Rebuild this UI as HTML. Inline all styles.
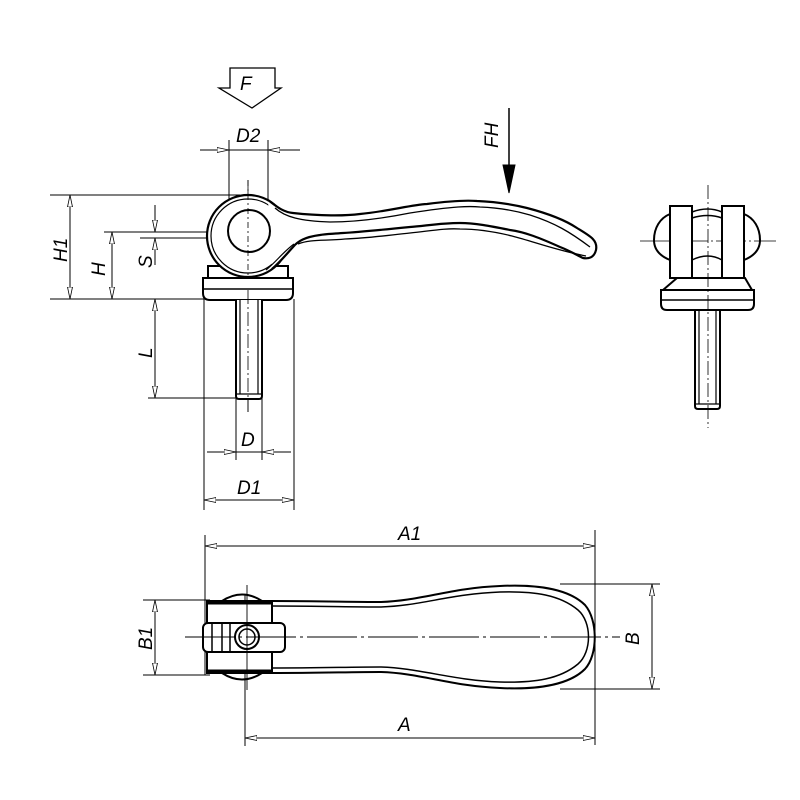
<!DOCTYPE html>
<html><head><meta charset="utf-8"><style>
html,body{margin:0;padding:0;background:#fff}
svg{display:block}
text{font-family:"Liberation Sans",sans-serif;font-style:italic;font-size:19px;fill:#000}
</style></head><body>
<svg width="800" height="800" viewBox="0 0 800 800" xmlns="http://www.w3.org/2000/svg">
<defs>
<marker id="a" viewBox="0 0 12 6" refX="12" refY="3" markerWidth="12" markerHeight="6" markerUnits="userSpaceOnUse" orient="auto-start-reverse">
<path d="M0,0.5 L12,3 L0,5.5 Z" fill="#fff" stroke="#000" stroke-width="0.8"/></marker>
</defs>
<g fill="none" stroke="#000">
<!-- F arrow -->
<path d="M230,68 H275 V88 H281 L252,108 L219,88 H230 Z" stroke-width="1.3"/>
<!-- FH arrow -->
<line x1="509" y1="108" x2="509" y2="170" stroke-width="1.5"/>
<path d="M503,165 L515,165 L509,193 Z" fill="#000"/>
<g stroke-width="1">
<line x1="229" y1="140" x2="229" y2="215"/><line x1="268" y1="140" x2="268" y2="215"/>
<line x1="200" y1="150" x2="229" y2="150" marker-end="url(#a)"/>
<line x1="300" y1="150" x2="268" y2="150" marker-end="url(#a)"/>
<line x1="229" y1="150" x2="268" y2="150"/>
<line x1="50" y1="195" x2="240" y2="195"/>
<line x1="50" y1="299" x2="205" y2="299"/>
<line x1="70" y1="195" x2="70" y2="299" marker-start="url(#a)" marker-end="url(#a)"/>
<line x1="104" y1="232" x2="260" y2="232"/>
<line x1="112" y1="232" x2="112" y2="299" marker-start="url(#a)" marker-end="url(#a)"/>
<line x1="140" y1="238" x2="297" y2="238"/>
<line x1="155" y1="205" x2="155" y2="232" marker-end="url(#a)"/>
<line x1="155" y1="265" x2="155" y2="238" marker-end="url(#a)"/>
<line x1="148" y1="398" x2="238" y2="398"/>
<line x1="155" y1="299" x2="155" y2="398" marker-start="url(#a)" marker-end="url(#a)"/>
<line x1="236" y1="398" x2="236" y2="460"/><line x1="262" y1="398" x2="262" y2="460"/>
<line x1="207" y1="452" x2="236" y2="452" marker-end="url(#a)"/>
<line x1="291" y1="452" x2="262" y2="452" marker-end="url(#a)"/>
<line x1="236" y1="452" x2="262" y2="452"/>
<line x1="204" y1="299" x2="204" y2="510"/><line x1="294" y1="299" x2="294" y2="510"/>
<line x1="204" y1="500" x2="294" y2="500" marker-start="url(#a)" marker-end="url(#a)"/>
</g>
<line x1="248" y1="180" x2="248" y2="412" stroke-width="0.8" stroke-dasharray="14,3,2,3"/>
<!-- base (behind eye) -->
<path d="M208,278 V266 H288 V278" stroke-width="2" fill="#fff"/>
<!-- eye circle -->
<circle cx="248" cy="236" r="41" stroke-width="2.2" fill="#fff"/>
<circle cx="248" cy="236" r="37" stroke-width="1.2"/>
<!-- lever fill covering circle junction -->
<path d="M268,200 C275,205 282,212 293,213 L560,247 L300,242 C290,250 280,262 272,269 A41,41 0 0 0 268,200 Z" fill="#fff" stroke="none"/>
<path d="M266,204 L300,240 L276,266 Z" fill="#fff" stroke="none"/>
<path d="M268,200 C275,205 282,212 293,213 C320,216 345,216 360,214 C390,211 410,205 427,204 C450,201 465,200 477,201 C500,202 515,205 527,208 C550,214 565,220 577,228 C590,236 598,240 596,250 C594,258 588,259 583,258 C575,254 568,250 560,247 C540,238 525,232 510,230 C490,226 475,223 460,223 C440,223 425,226 410,227 C380,230 360,232 343,233 C330,234 325,234 320,235 C305,237 298,241 293,247 C286,255 280,262 272,269" stroke-width="2.2" fill="#fff"/>
<path d="M275,208 C285,217 300,221 330,222 C360,222 390,217 410,213 C455,206 470,206 480,207 C505,208 520,212 530,215 C555,223 570,232 590,247" stroke-width="1.3"/>
<path d="M298,244 C310,239 325,241 345,239 C370,238 390,235 410,233 C430,231 445,228 460,229 C480,229 500,233 512,236 C535,242 555,250 586,256" stroke-width="1.3"/>
<path d="M266,270 C276,262 283,252 294,244" stroke-width="1.2"/>
<circle cx="249" cy="231" r="21" stroke-width="2" fill="#fff"/>
<line x1="248" y1="180" x2="248" y2="280" stroke-width="0.8" stroke-dasharray="6,3,2,3"/>
<!-- washer -->
<path d="M203,278 H293 V293 Q293,300 286,300 H210 Q203,300 203,293 Z" stroke-width="2" fill="#fff"/>
<line x1="203" y1="289" x2="293" y2="289" stroke-width="1.5"/>
<!-- bolt -->
<path d="M236,300 V396 Q236,399 239,399 H259 Q262,399 262,396 V300" stroke-width="2" fill="#fff"/>
<line x1="240" y1="300" x2="240" y2="394" stroke-width="1.2"/>
<line x1="258" y1="300" x2="258" y2="394" stroke-width="1.2"/>
<line x1="236" y1="394" x2="262" y2="394" stroke-width="1.2"/>
<line x1="248" y1="290" x2="248" y2="412" stroke-width="0.8" stroke-dasharray="14,3,2,3"/>

<!-- side view -->
<line x1="708" y1="185" x2="708" y2="428" stroke-width="0.8" stroke-dasharray="14,3,2,3"/>
<line x1="640" y1="241" x2="776" y2="241" stroke-width="0.8" stroke-dasharray="30,3,2,3"/>
<path d="M670,214 C660,218 654,228 654,240 C654,250 660,256 670,260" stroke-width="2"/>
<path d="M744,214 C754,218 760,228 760,240 C760,250 754,256 744,260" stroke-width="2"/>
<rect x="670" y="206" width="22" height="72" stroke-width="2" fill="#fff"/>
<rect x="722" y="206" width="22" height="72" stroke-width="2" fill="#fff"/>
<path d="M692,212 Q708,206 722,212 M692,218 Q708,213 722,218 M692,260 Q708,252 722,260" stroke-width="1.5"/>
<path d="M677,278 H745 L752,290 H663 Z" stroke-width="2"/>
<path d="M661,290 H754 V304 Q754,310 748,310 H667 Q661,310 661,304 Z" stroke-width="2"/>
<line x1="661" y1="300" x2="754" y2="300" stroke-width="1.5"/>
<path d="M695,310 V406 Q695,409 698,409 H717 Q720,409 720,406 V310" stroke-width="2"/>
<line x1="699" y1="310" x2="699" y2="404" stroke-width="1.2"/>
<line x1="716" y1="310" x2="716" y2="404" stroke-width="1.2"/>
<line x1="695" y1="404" x2="720" y2="404" stroke-width="1.2"/>

<!-- bottom view dims -->
<g stroke-width="1">
<line x1="205" y1="535" x2="205" y2="675"/>
<line x1="595" y1="530" x2="595" y2="745"/>
<line x1="205" y1="546" x2="595" y2="546" marker-start="url(#a)" marker-end="url(#a)"/>
<line x1="245" y1="595" x2="245" y2="746"/>
<line x1="245" y1="738" x2="595" y2="738" marker-start="url(#a)" marker-end="url(#a)"/>
<line x1="560" y1="584" x2="660" y2="584"/>
<line x1="560" y1="689" x2="660" y2="689"/>
<line x1="652" y1="584" x2="652" y2="689" marker-start="url(#a)" marker-end="url(#a)"/>
<line x1="143" y1="600" x2="210" y2="600"/>
<line x1="143" y1="675" x2="210" y2="675"/>
<line x1="155" y1="600" x2="155" y2="675" marker-start="url(#a)" marker-end="url(#a)"/>
</g>
<path d="M272,601 C320,601 350,602 380,602 C420,601 450,588 500,586 C540,584 570,590 585,605 C598,620 598,655 585,669 C570,684 540,690 500,688 C450,686 420,673 380,672 C350,672 320,673 272,673" stroke-width="2"/>
<path d="M272,606 C320,606 350,607 380,607 C420,606 450,594 500,592 C535,591 560,595 578,610 C592,622 592,652 578,664 C560,679 535,683 500,682 C450,680 420,668 380,667 C350,667 320,668 272,668" stroke-width="1.5"/>
<path d="M222,601 Q242,588 262,601 M222,673 Q242,686 262,673" stroke-width="2"/>
<rect x="207" y="601" width="65" height="72" stroke-width="2" fill="#fff"/>
<line x1="207" y1="603" x2="272" y2="603" stroke-width="3"/>
<line x1="207" y1="671" x2="272" y2="671" stroke-width="3"/>
<rect x="203" y="623" width="82" height="29" rx="5" stroke-width="2" fill="#fff"/>
<line x1="212" y1="623" x2="212" y2="652" stroke-width="1.5"/>
<line x1="222" y1="623" x2="222" y2="652" stroke-width="1.5"/>
<line x1="230" y1="623" x2="230" y2="652" stroke-width="1.5"/>
<circle cx="247" cy="637" r="12" stroke-width="2" fill="#fff"/>
<circle cx="247" cy="637" r="8" stroke-width="1.5"/>
<line x1="185" y1="637" x2="620" y2="637" stroke-width="0.9" stroke-dasharray="50,4,3,4"/>
<line x1="247" y1="585" x2="247" y2="690" stroke-width="0.9"/>
</g>
<text x="240" y="90" font-size="22">F</text>
<text x="236" y="142">D2</text>
<text x="0" y="0" transform="translate(498,148) rotate(-90)">FH</text>
<text x="0" y="0" transform="translate(67,262) rotate(-90)">H1</text>
<text x="0" y="0" transform="translate(105,276) rotate(-90)">H</text>
<text x="0" y="0" transform="translate(152,268) rotate(-90)">S</text>
<text x="0" y="0" transform="translate(152,358) rotate(-90)">L</text>
<text x="241" y="446">D</text>
<text x="237" y="494">D1</text>
<text x="398" y="540">A1</text>
<text x="398" y="731">A</text>
<text x="0" y="0" transform="translate(639,645) rotate(-90)">B</text>
<text x="0" y="0" transform="translate(152,650) rotate(-90)">B1</text>
</svg>
</body></html>
